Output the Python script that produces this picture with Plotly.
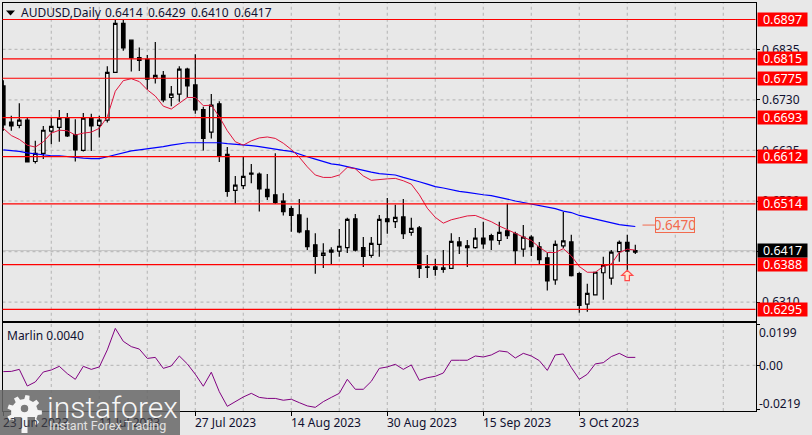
import math
import plotly.graph_objects as go

W, H = 812, 435
FONT = "Noto Sans"

bars = list(range(80))
opens = [.6759,.6684,.6677,.6688,.6602,.6619,.6665,.6673,.6693,.6658,.6625,.6693,.6677,.6688,.6787,.6889,.6854,.6818,.6814,.6775,
         .6781,.6735,.6742,.6794,.6761,.6710,.6663,.6722,.6617,.6542,.6552,.6578,.6576,.6544,.6533,.6520,.6504,.6491,.6458,.6429,
         .6407,.6414,.6416,.6423,.6483,.6423,.6407,.6430,.6483,.6477,.6487,.6455,.6464,.6383,.6383,.6381,.6380,.6435,.6427,.6423,
         .6443,.6448,.6438,.6458,.6452,.6420,.6445,.6425,.6402,.6356,.6427,.6435,.6369,.6306,.6325,.6371,.6360,.6415,.6434,.6414]
highs = [.6771,.6697,.6723,.6694,.6645,.6676,.6694,.6709,.6703,.6690,.6703,.6701,.6697,.6800,.6896,.6896,.6854,.6839,.6823,.6850,
         .6790,.6759,.6800,.6797,.6825,.6716,.6742,.6727,.6632,.6572,.6612,.6597,.6579,.6576,.6619,.6536,.6509,.6524,.6485,.6453,
         .6432,.6424,.6462,.6485,.6493,.6445,.6445,.6491,.6526,.6512,.6524,.6485,.6468,.6408,.6400,.6418,.6453,.6445,.6439,.6464,
         .6477,.6452,.6477,.6515,.6456,.6470,.6449,.6435,.6413,.6438,.6497,.6450,.6372,.6348,.6373,.6404,.6418,.6438,.6450,.6429]
lows = [.6666,.6666,.6671,.6600,.6598,.6607,.6638,.6643,.6653,.6602,.6623,.6624,.6652,.6683,.6787,.6832,.6789,.6790,.6751,.6764,
        .6725,.6717,.6726,.6735,.6701,.6625,.6650,.6601,.6529,.6515,.6545,.6557,.6498,.6522,.6514,.6490,.6456,.6453,.6418,.6369,
        .6381,.6389,.6404,.6412,.6415,.6383,.6402,.6404,.6452,.6464,.6441,.6448,.6360,.6360,.6365,.6371,.6380,.6410,.6383,.6421,
        .6421,.6418,.6429,.6441,.6389,.6404,.6406,.6389,.6334,.6346,.6422,.6363,.6288,.6290,.6324,.6315,.6346,.6394,.6376,.6410]
closes = [.6678,.6676,.6688,.6601,.6619,.6667,.6675,.6692,.6655,.6626,.6692,.6676,.6688,.6787,.6889,.6838,.6817,.6812,.6773,.6781,
          .6730,.6742,.6794,.6759,.6709,.6650,.6719,.6613,.6540,.6553,.6571,.6576,.6545,.6529,.6517,.6498,.6490,.6456,.6425,.6405,
          .6412,.6418,.6426,.6482,.6418,.6405,.6432,.6482,.6477,.6486,.6452,.6463,.6380,.6382,.6378,.6378,.6436,.6427,.6423,.6443,
          .6431,.6439,.6455,.6448,.6417,.6445,.6425,.6398,.6354,.6430,.6437,.6365,.6303,.6328,.6372,.6387,.6414,.6434,.6416,.6417]
red_ma = [.6671,.6656,.6648,.6636,.6632,.6643,.6661,.6667,.6666,.6657,.6661,.6663,.6671,.6695,.6748,.6770,.6774,.6768,.6751,.6738,
          .6717,.6711,.6723,.6735,.6735,.6718,.6719,.6695,.6666,.6643,.6636,.6645,.6651,.6653,.6650,.6640,.6627,.6611,.6591,.6574,
          .6569,.6569,.6574,.6590,.6587,.6572,.6563,.6565,.6566,.6567,.6562,.6555,.6533,.6505,.6486,.6474,.6481,.6485,.6489,.6490,
          .6484,.6477,.6468,.6461,.6453,.6445,.6438,.6424,.6413,.6413,.6421,.6406,.6384,.6372,.6372,.6384,.6389,.6413,.6420,.6418]
blue_ma = [.6626,.6625,.6623,.6620,.6618,.6615,.6614,.6614,.6612,.6611,.6609,.6608,.6608,.6612,.6616,.6621,.6624,.6626,.6628,.6631,
           .6633,.6636,.6638,.6641,.6641,.6641,.6641,.6641,.6639,.6638,.6636,.6635,.6633,.6630,.6627,.6625,.6623,.6617,.6612,.6607,
           .6602,.6597,.6595,.6591,.6588,.6583,.6580,.6577,.6576,.6574,.6569,.6565,.6560,.6555,.6550,.6547,.6543,.6540,.6538,.6535,
           .6533,.6531,.6528,.6524,.6520,.6517,.6514,.6511,.6507,.6504,.6499,.6496,.6490,.6486,.6483,.6479,.6475,.6471,.6469,.6467]
marlin = [-.0031,-.0030,-.0020,-.0102,-.0082,-.0033,-.0023,-.0005,-.0041,-.0069,-.0005,-.0020,-.0008,.0076,.0182,.0118,.0092,.0080,.0034,.0039,
          -.0015,-.0003,.0046,.0007,-.0044,-.0103,-.0034,-.0130,-.0202,-.0177,-.0156,-.0138,-.0158,-.0163,-.0163,-.0172,-.0167,-.0184,-.0200,-.0207,
          -.0179,-.0158,-.0138,-.0069,-.0118,-.0118,-.0079,-.0015,-.0008,.0005,-.0020,.0002,-.0074,-.0061,-.0054,-.0038,.0025,.0025,.0025,.0046,
          .0041,.0051,.0071,.0066,.0036,.0059,.0046,.0023,-.0025,.0051,.0056,-.0011,-.0069,-.0044,.0007,.0013,.0043,.0059,.0039,.0039]

levels = [.6897, .6815, .6775, .6693, .6612, .6514, .6388, .6295]
price_ticks = [.6835, .6730, .6625, .6520, .6415, .6310]
price_tick_text = ["0.6835", "0.6730", "0.6625", "0.6520", "", "0.6310"]
last_close = .6417
ma_label = .6470
header_name = "AUDUSD,Daily"
header_values = ["0.6414", "0.6429", "0.6410", "0.6417"]
date_ticks = [0, 12, 24, 36, 48, 60, 72]
date_labels = ["23 Jun 2023", "11 Jul 2023", "27 Jul 2023", "14 Aug 2023", "30 Aug 2023", "15 Sep 2023", "3 Oct 2023"]
marlin_ticks = [.0199, 0.0, -.0219]
marlin_labels = ["0.0199", "0.00", "-0.0219"]
grid_bars = [6, 12, 18, 24, 30, 36, 42, 48, 54, 60, 66, 72, 78, 84, 90]

BG = "#e8e8e8"
GRID = "#bcbcbc"
INK = "#101030"
px = lambda v: v / W
py = lambda v: 1 - v / H

def poly(points):
    return "M " + " L ".join(f"{px(x):.5f},{py(y):.5f}" for x, y in points) + " Z"

fig = go.Figure()
fig.add_trace(go.Candlestick(
    x=bars, open=opens, high=highs, low=lows, close=closes, xaxis="x", yaxis="y",
    increasing=dict(line=dict(color="black", width=1.2), fillcolor="white"),
    decreasing=dict(line=dict(color="black", width=1.2), fillcolor="black"),
    whiskerwidth=0, hoverinfo="skip", showlegend=False))
fig.add_trace(go.Scatter(x=bars, y=blue_ma, mode="lines", line=dict(color="#0000ff", width=1.2),
                         xaxis="x", yaxis="y", hoverinfo="skip", showlegend=False))
fig.add_trace(go.Scatter(x=bars, y=red_ma, mode="lines", line=dict(color="#e0143c", width=1),
                         xaxis="x", yaxis="y", hoverinfo="skip", showlegend=False))
fig.add_trace(go.Scatter(x=bars, y=marlin, mode="lines", line=dict(color="#800080", width=1),
                         xaxis="x2", yaxis="y2", hoverinfo="skip", showlegend=False))

grid_line = dict(color=GRID, width=1.2, dash="3px,3px")
shapes = []
for b in grid_bars:
    shapes.append(dict(type="line", xref="x", yref="y domain", x0=b, x1=b, y0=0, y1=1, line=grid_line, layer="below"))
    shapes.append(dict(type="line", xref="x2", yref="y2 domain", x0=b, x1=b, y0=0, y1=1, line=grid_line, layer="below"))
for t in price_ticks:
    shapes.append(dict(type="line", xref="x domain", yref="y", x0=0, x1=1, y0=t, y1=t, line=grid_line, layer="below"))
shapes.append(dict(type="line", xref="x2 domain", yref="y2", x0=0, x1=1, y0=0, y1=0, line=grid_line, layer="below"))
shapes.append(dict(type="line", xref="x domain", yref="y", x0=0, x1=1, y0=last_close, y1=last_close,
                   line=dict(color="#c4c4c4", width=1), layer="below"))
for lv in levels:
    shapes.append(dict(type="line", xref="x domain", yref="y", x0=0, x1=1, y0=lv, y1=lv,
                       line=dict(color="#ff0000", width=1.2), layer="above"))
shapes.append(dict(type="line", xref="x", yref="y", x0=79.9, x1=81.5, y0=ma_label, y1=ma_label,
                   line=dict(color="#f26b4e", width=1), layer="above"))
shapes.append(dict(type="line", xref="paper", yref="paper", x0=px(2), x1=px(756), y0=py(321.7), y1=py(321.7),
                   line=dict(color="black", width=1.3), layer="above"))

arrow = [(627.2, 270.3), (632.7, 275.3), (629.4, 275.3), (629.4, 280.6), (625, 280.6), (625, 275.3), (621.7, 275.3)]
shapes.append(dict(type="path", xref="paper", yref="paper", path=poly(arrow), fillcolor="#ffe6d0",
                   line=dict(color="#ff4a4a", width=1.2), layer="above"))
shapes.append(dict(type="path", xref="paper", yref="paper", path=poly([(6, 10.5), (15, 10.5), (10.5, 15.5)]),
                   fillcolor="black", line=dict(width=0), layer="above"))

shapes.append(dict(type="rect", xref="paper", yref="paper", x0=0, x1=px(180), y0=py(435), y1=py(390),
                   fillcolor="rgba(105,105,105,0.86)", line=dict(width=0), layer="above"))
gcx, gcy, r0, r1 = 24.5, 412.5, 13.5, 17.5
pts = []
n = 9
for k in range(n):
    a = 2 * math.pi * k / n
    for da, r in ((-.19, r0), (-.12, r1), (.12, r1), (.19, r0)):
        pts.append((gcx + r * math.cos(a + da), gcy + r * math.sin(a + da)))
shapes.append(dict(type="path", xref="paper", yref="paper", path=poly(pts), fillcolor="#f4f4f4",
                   line=dict(width=0), layer="above"))
shapes.append(dict(type="rect", xref="paper", yref="paper", x0=px(14), x1=px(35), y0=py(431), y1=py(417),
                   fillcolor="#7a7a7a", line=dict(width=0), layer="above"))
shapes.append(dict(type="rect", xref="paper", yref="paper", x0=px(21.5), x1=px(27.5), y0=py(433), y1=py(413),
                   fillcolor="#f4f4f4", line=dict(width=0), layer="above"))
shapes.append(dict(type="circle", xref="paper", yref="paper", x0=px(20), x1=px(29), y0=py(413), y1=py(404),
                   fillcolor="#7a7a7a", line=dict(color="#f4f4f4", width=1.5), layer="above"))

ann = []
def text(x, y, s, color="black", size=12, xanchor="left", yanchor="middle", xref="paper", yref="paper", family=FONT, **kw):
    ann.append(dict(x=x, y=y, text=s, xref=xref, yref=yref, xanchor=xanchor, yanchor=yanchor, showarrow=False,
                    font=dict(family=family, size=size, color=color, **kw), borderpad=0, borderwidth=0))

text(px(21), py(12.5), header_name, color=INK)
for xp, s in zip((104.5, 147.5, 190.5, 233.5), header_values):
    text(px(xp), py(12.5), s, color=INK)
text(px(7), py(335), "Marlin 0.0040", color=INK)

for i, s in zip(date_ticks, date_labels):
    text(i, py(422), s, color="#35353f" if i < 24 else INK, xref="x2")
for val, s, yp in zip(marlin_ticks, marlin_labels, (332.5, 365.5, 403.5)):
    text(px(759), py(yp), s, color=INK)

for lv in levels:
    ann.append(dict(x=px(757), y=lv, xref="paper", yref="y", xanchor="left", yanchor="middle", showarrow=False,
                    text=f"{lv:.4f}", align="center", width=49, height=13, bgcolor="#ff0000", borderpad=0,
                    font=dict(family=FONT, size=12.5, color="white")))
ann.append(dict(x=px(757), y=last_close, xref="paper", yref="y", xanchor="left", yanchor="middle", showarrow=False,
                text=f"{last_close:.4f}", align="center", width=49, height=13, bgcolor="black", borderpad=0,
                font=dict(family=FONT, size=12.5, color="white")))
ann.append(dict(x=81.5, y=ma_label, xref="x", yref="y", xanchor="left", yanchor="middle", showarrow=False,
                text=f"{ma_label:.4f}", align="center", width=38, height=14, bgcolor=BG, bordercolor="#f26b4e",
                borderwidth=1, borderpad=0, font=dict(family=FONT, size=13.5, color="#f26b4e")))
text(px(47), py(407), "instaforex", color="#f6f6f6", size=30, family="Roboto", weight=300)
text(px(48.5), py(425.5), "Instant Forex Trading", color="#e2e2e2", size=12.5, family="Roboto")

fig.update_layout(
    width=W, height=H, margin=dict(l=0, r=0, t=0, b=0), paper_bgcolor=BG, plot_bgcolor=BG, boxgap=0.38,
    showlegend=False, shapes=shapes, annotations=ann, font=dict(family=FONT, size=12, color=INK),
    xaxis=dict(domain=[px(2.5), px(755.5)], range=[-.1, 94.025], anchor="y", rangeslider=dict(visible=False),
               showticklabels=False, ticks="", showgrid=False, zeroline=False, showline=True, linecolor="black",
               linewidth=1.3, mirror=True),
    yaxis=dict(domain=[py(321.7), py(2.5)], range=[.62693, .69323], anchor="x", side="right", tickmode="array",
               tickvals=price_ticks, ticktext=price_tick_text, ticks="outside", ticklen=3, tickcolor="black",
               tickfont=dict(family=FONT, size=12, color=INK), showgrid=False, zeroline=False, showline=True,
               linecolor="black", linewidth=1.3, mirror=True),
    xaxis2=dict(domain=[px(2.5), px(755.5)], range=[-.1, 94.025], anchor="y2", tickmode="array", tickvals=date_ticks,
                showticklabels=False, ticks="outside", ticklen=4, tickcolor="black", showgrid=False, zeroline=False,
                showline=True, linecolor="black", linewidth=1.3, mirror=True),
    yaxis2=dict(domain=[py(411), py(323.3)], range=[-.0225, .02069], anchor="x2", side="right", tickmode="array",
                tickvals=marlin_ticks, showticklabels=False, ticks="outside", ticklen=3, tickcolor="black", showgrid=False,
                zeroline=False, showline=True, linecolor="black", linewidth=1.3, mirror=True),
)
fig.write_html("out.html", config=dict(displayModeBar=False),
               post_script="document.body.style.margin='0';document.body.style.overflow='hidden';")
